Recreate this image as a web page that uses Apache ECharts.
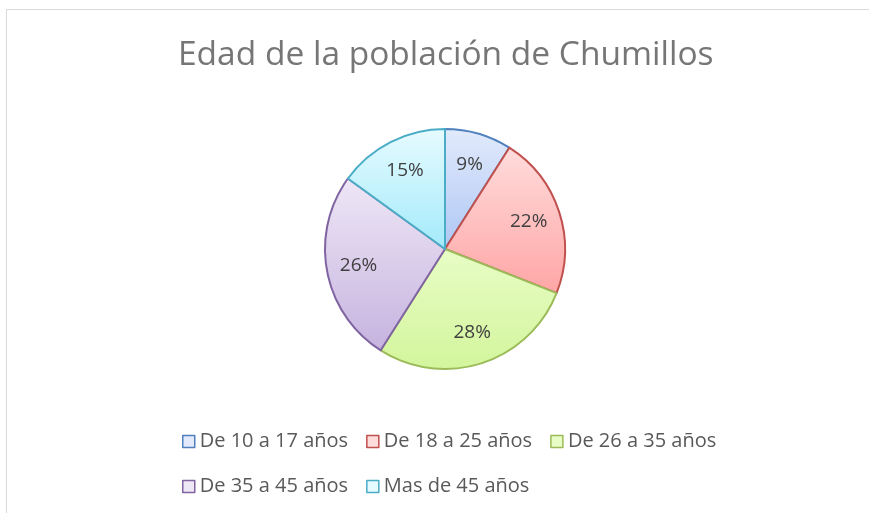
<!DOCTYPE html>
<html>
<head>
<meta charset="utf-8">
<script src="https://cdn.jsdelivr.net/npm/echarts@6/dist/echarts.min.js"></script>
<style>
  html, body { margin: 0; padding: 0; background: #fff; }
  #frame { position: absolute; left: 6px; top: 9px; width: 880px; height: 520px; border: 1px solid #d9d9d9; box-sizing: border-box; }
  #chart { position: absolute; left: 0; top: 0; width: 869px; height: 513px; }
</style>
</head>
<body>
<div id="frame"></div>
<div id="chart"></div>
<script>
const categories = ["De 10 a 17 años", "De 18 a 25 años", "De 26 a 35 años", "De 35 a 45 años", "Mas de 45 años"];
const values = [9, 22, 28, 26, 15];
const lineColors = ["#4f81bd", "#c0504d", "#9bbb59", "#8064a2", "#4bacc6"];
const topColors = ["#e2eafc", "#ffdcdc", "#e8fdc6", "#eee7f6", "#e6fbff"];
const bottomColors = ["#aec7f4", "#ffa5a5", "#d3f59c", "#c6b3df", "#a3eafa"];

const font = "'Open Sans', sans-serif";

const chart = echarts.init(document.getElementById("chart"), null, { renderer: "canvas" });

const pieData = categories.map((name, i) => ({
  name,
  value: values[i],
  itemStyle: {
    color: new echarts.graphic.LinearGradient(0, 0, 0, 1, [
      { offset: 0, color: topColors[i] },
      { offset: 1, color: bottomColors[i] }
    ]),
    borderColor: lineColors[i],
    borderWidth: 2
  }
}));

chart.setOption({
  animation: false,
  title: {
    text: "Edad de la población de Chumillos",
    left: 173,
    top: 33,
    textStyle: { fontFamily: font, fontSize: 33.5, fontWeight: "normal", color: "#767676" }
  },
  legend: {
    left: 177,
    top: 423,
    width: 600,
    itemWidth: 12,
    itemHeight: 12,
    itemGap: 18,
    icon: "rect",
    textStyle: { fontFamily: font, fontSize: 20, color: "#595959", lineHeight: 27 },
    data: categories.map((name, i) => ({
      name,
      itemStyle: { color: topColors[i], borderColor: lineColors[i], borderWidth: 1.5 }
    }))
  },
  series: [
    {
      type: "pie",
      center: [445, 249],
      radius: [0, 120],
      startAngle: 90,
      clockwise: true,
      label: { show: false },
      labelLine: { show: false },
      emphasis: { disabled: true },
      data: pieData
    },
    {
      type: "pie",
      center: [445, 249],
      radius: [50, 120],
      startAngle: 90,
      clockwise: true,
      silent: true,
      itemStyle: { color: "transparent", borderWidth: 0 },
      label: {
        show: true,
        position: "inside",
        formatter: "{d}%",
        fontFamily: font,
        fontSize: 19,
        color: "#404040"
      },
      labelLine: { show: false },
      emphasis: { disabled: true },
      data: categories.map((name, i) => ({ name, value: values[i] }))
    }
  ]
});
</script>
</body>
</html>
